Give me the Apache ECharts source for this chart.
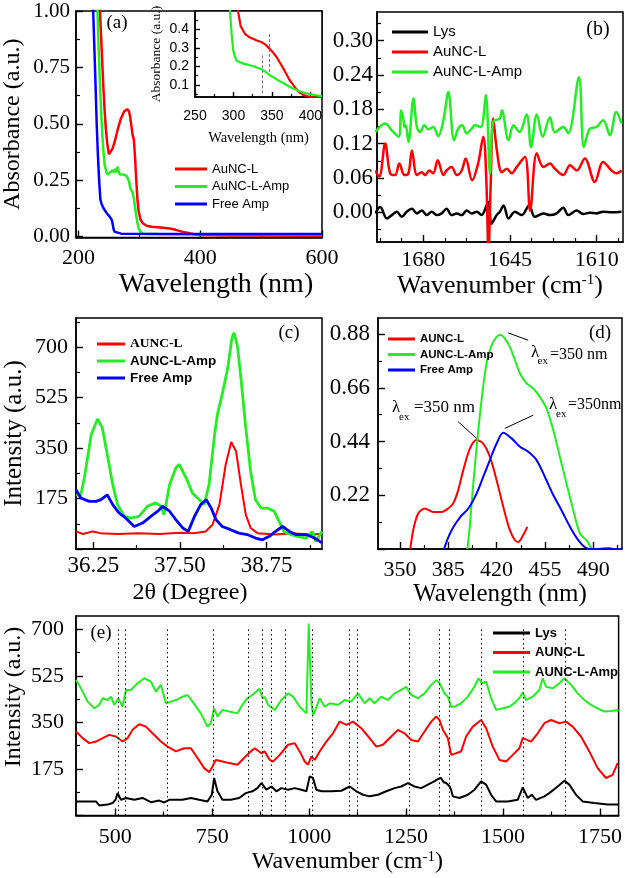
<!DOCTYPE html>
<html>
<head>
<meta charset="utf-8">
<script src="https://cdn.jsdelivr.net/npm/echarts@6/dist/echarts.min.js"></script>
<style>html,body{margin:0;padding:0;background:#fff}#chart{width:625px;height:878px}</style>
</head>
<body>
<div id="chart"></div>
<script>
// (a) UV-vis absorbance, wavelength (nm) vs absorbance
var uvAuNC = [[235,1.02],[237,0.9],[239,0.78],[241,0.66],[243,0.56],[245,0.48],[247,0.42],[250,0.365],[253,0.37],[256,0.39],[260,0.425],[265,0.48],[270,0.525],[275,0.555],[280,0.565],[283,0.555],[285,0.53],[287,0.49],[289,0.45],[291,0.43],[293,0.35],[295,0.25],[297,0.16],[299,0.11],[302,0.075],[306,0.058],[312,0.048],[320,0.044],[335,0.04],[350,0.036],[360,0.03],[370,0.022],[380,0.016],[390,0.01],[400,0.007],[450,0.005],[600,0.004]];
var uvAmp = [[231,1.02],[233,0.85],[235,0.7],[237,0.57],[239,0.46],[241,0.38],[243,0.32],[246,0.285],[248,0.275],[250,0.27],[252,0.285],[254,0.28],[256,0.295],[258,0.285],[260,0.3],[262,0.285],[264,0.31],[266,0.29],[268,0.275],[270,0.27],[273,0.275],[276,0.275],[279,0.27],[281,0.265],[283,0.245],[285,0.215],[287,0.205],[289,0.195],[291,0.17],[293,0.13],[295,0.09],[297,0.06],[299,0.035],[302,0.02],[306,0.013],[330,0.011],[600,0.009]];
var uvFree = [[224,1.02],[226,0.85],[228,0.68],[230,0.5],[232,0.36],[234,0.25],[236,0.165],[238,0.145],[240,0.132],[243,0.118],[245,0.111],[247,0.102],[249,0.097],[251,0.09],[253,0.085],[254.5,0.075],[256,0.06],[257.5,0.035],[259,0.022],[261,0.015],[270,0.013],[350,0.012],[600,0.011]];
// (a) inset
var insetAuNC = [[305,0.52],[306.3,0.488],[309.3,0.417],[315,0.374],[320,0.358],[326,0.347],[331,0.338],[337,0.329],[342,0.315],[347,0.294],[352,0.272],[356,0.25],[360,0.222],[365,0.188],[369,0.157],[373,0.126],[378,0.098],[382,0.077],[386,0.06],[391,0.047],[396,0.04],[402,0.035],[408,0.031],[415,0.029]];
var insetAmp = [[295.2,0.52],[295.6,0.488],[297.6,0.374],[299.7,0.285],[302,0.25],[304,0.232],[308,0.222],[313,0.215],[319,0.209],[326,0.201],[331,0.193],[337,0.183],[342,0.17],[347,0.153],[353,0.139],[358,0.126],[364,0.112],[369,0.1],[374,0.088],[380,0.077],[385,0.068],[391,0.06],[397,0.053],[404,0.047],[409,0.043],[415,0.041]];
var insetMarks = [[337,0.056,0.268],[347,0.17,0.382]];

// (b) FTIR, wavenumber vs absorbance
var irLys = [[1699.4,-0.002],[1697.4,0.009],[1694.7,-0.011],[1692.7,-0.005],[1690.7,0.001],[1688.7,-0.008],[1686.7,0.001],[1684.6,0.006],[1682.6,-0.002],[1680.6,0.003],[1678.6,-0.005],[1676.6,0.001],[1674.6,-0.005],[1672.6,-0.002],[1670.6,0.006],[1668.6,-0.005],[1666.5,-0.002],[1664.5,-0.005],[1662.5,0.003],[1660.5,-0.002],[1658.5,0.001],[1656.5,-0.005],[1653.8,0.018],[1652.5,-0.02],[1650.4,-0.005],[1649.1,0.001],[1647.6,0.012],[1645.6,-0.011],[1643,0.001],[1640.3,-0.005],[1637.3,0.012],[1635,-0.008],[1631.5,-0.002],[1628.9,-0.005],[1626.2,-0.002],[1623.5,0.008],[1621.5,-0.005],[1618.1,0.003],[1615.5,-0.003],[1612.8,-0.001],[1610.1,-0.002],[1607.4,0.001],[1604.1,0],[1600,0.001]];
var irAuNC = [[1699.4,0.073],[1697.8,0.062],[1695.4,0.12],[1693.4,0.068],[1691.4,0.065],[1689.7,0.085],[1687.6,0.065],[1686,0.068],[1684.6,0.108],[1682.6,0.065],[1680.6,0.07],[1679.3,0.065],[1677.6,0.073],[1676,0.068],[1674.2,0.091],[1671.9,0.065],[1670.6,0.073],[1668.6,0.079],[1666.5,0.065],[1664.5,0.073],[1662.9,0.094],[1660.3,0.056],[1657.9,0.085],[1655.8,0.132],[1654.6,0.06],[1653.7,-0.07],[1652.8,0.05],[1651.8,0.164],[1650.3,0.108],[1648.3,0.07],[1646.3,0.076],[1644.3,0.068],[1642.3,0.079],[1639,0.097],[1636.9,0.003],[1634.2,0.103],[1631.5,0.079],[1628.9,0.085],[1626.9,0.076],[1623.5,0.065],[1620.8,0.082],[1618.1,0.073],[1614.8,0.094],[1610.8,0.053],[1607.4,0.088],[1604.1,0.073],[1602.1,0.068],[1600,0.073]];
var irAmp = [[1699.4,0.14],[1695.4,0.155],[1692.7,0.143],[1690,0.132],[1688.9,0.178],[1688,0.161],[1687.6,0.149],[1687.1,0.152],[1686,0.123],[1684,0.199],[1682.6,0.149],[1681.3,0.14],[1679.6,0.152],[1678,0.145],[1676,0.149],[1674,0.133],[1671.9,0.161],[1669.9,0.21],[1667.6,0.126],[1665.9,0.146],[1664.3,0.152],[1662.5,0.138],[1660.5,0.146],[1659.2,0.152],[1656.8,0.149],[1654.8,0.205],[1653.1,0.068],[1651.8,0.158],[1649.1,0.164],[1648.3,0.178],[1645.6,0.126],[1643.6,0.152],[1641.2,0.14],[1638.3,0.171],[1636.5,0.114],[1634.2,0.171],[1631.8,0.132],[1628.9,0.166],[1626.9,0.14],[1623.5,0.149],[1621.5,0.138],[1617.2,0.236],[1615.2,0.114],[1612.8,0.146],[1610.1,0.149],[1607.4,0.161],[1604.7,0.135],[1602.1,0.175],[1600,0.155]];

// (c) XRD, 2theta vs intensity
var xrdAuNC = [[36,61],[36.1,52],[36.24,61],[36.35,55],[36.6,52],[36.9,55],[37.2,52],[37.5,56],[37.7,55],[37.87,61],[37.97,84],[38.07,154],[38.16,293],[38.24,371],[38.31,339],[38.38,223],[38.45,119],[38.52,73],[38.62,55],[38.88,50],[39.12,55],[39.36,50],[39.55,52]];
var xrdAmp = [[36,188],[36.07,188],[36.12,246],[36.22,397],[36.31,451],[36.38,420],[36.46,316],[36.53,223],[36.6,154],[36.7,113],[36.79,107],[36.91,113],[37.03,148],[37.15,160],[37.23,148],[37.27,119],[37.35,223],[37.44,281],[37.49,293],[37.59,246],[37.68,194],[37.78,171],[37.85,154],[37.92,223],[38,397],[38.04,466],[38.11,536],[38.19,628],[38.25,732],[38.28,750],[38.33,703],[38.38,593],[38.45,420],[38.52,269],[38.59,171],[38.67,142],[38.76,142],[38.86,131],[38.93,96],[39,61],[39.1,50],[39.2,44],[39.32,38],[39.41,61],[39.46,26],[39.55,61]];
var xrdFree = [[36,206],[36.07,177],[36.19,165],[36.29,165],[36.36,171],[36.45,188],[36.53,154],[36.62,125],[36.72,107],[36.84,78],[36.96,90],[37.08,113],[37.18,131],[37.25,148],[37.35,131],[37.44,102],[37.54,73],[37.62,61],[37.71,113],[37.8,154],[37.88,171],[37.95,142],[38.02,102],[38.11,78],[38.23,67],[38.35,55],[38.47,50],[38.59,38],[38.69,32],[38.79,44],[38.88,61],[38.98,78],[39.08,61],[39.17,50],[39.32,50],[39.44,38],[39.55,21]];

// (d) photoluminescence, wavelength vs intensity
var plAuNC = [[357.5,0],[359.6,0.077],[363.2,0.145],[368,0.166],[374.1,0.152],[380.1,0.152],[385,0.166],[388.6,0.187],[392.2,0.241],[395.8,0.322],[400.7,0.412],[405.5,0.446],[410.3,0.432],[415.1,0.378],[420,0.282],[424.8,0.173],[429.6,0.077],[433.3,0.036],[435.7,0.029],[439.3,0.057],[442.2,0.091]];
var plAmp = [[398.9,0],[400.7,0.102],[403.1,0.268],[406,0.446],[409.1,0.61],[412.7,0.76],[416.4,0.835],[420,0.869],[422.9,0.876],[426,0.862],[429.6,0.828],[433.3,0.773],[436.9,0.719],[441.7,0.678],[446.5,0.657],[451.3,0.623],[456.2,0.575],[461,0.487],[465.8,0.378],[470.6,0.268],[475.5,0.159],[480.3,0.064],[485.1,0.036],[488.8,0]];
var plFree = [[381.9,0],[385,0.048],[388.6,0.089],[393.5,0.13],[399.5,0.166],[405.5,0.227],[410.3,0.295],[415.1,0.364],[420,0.432],[424.8,0.476],[430.8,0.453],[436.9,0.419],[442.9,0.398],[448.9,0.364],[455,0.295],[461,0.221],[467,0.159],[473.1,0.091],[479.1,0.036],[484,0.007],[488.8,0],[502.1,0.003],[504.5,0],[510.8,0]];
var plArrows = [[428.4,0.885,442.9,0.855],[405.5,0.453,392.2,0.521],[426,0.494,446.5,0.548]];

// (e) Raman, wavenumber vs intensity
var ramanLys = [[398.8,53],[450.3,53],[458.9,38],[480.3,41],[493.2,47],[501,60],[506.1,84],[514.7,59],[527.6,66],[549,59],[570.5,66],[591.9,50],[613.4,56],[626.3,49],[639.2,59],[673.5,59],[695,66],[716.4,59],[737.9,53],[749,78],[755,141],[763.6,91],[776.5,59],[798,59],[819.4,66],[836.6,84],[853.8,91],[866.6,103],[877,122],[889.8,97],[902.7,109],[915.6,91],[928.5,103],[945.6,97],[962.8,103],[980,97],[992.9,91],[1001.4,147],[1010,141],[1018.6,97],[1031.5,91],[1057.2,91],[1083,93],[1104.4,109],[1121.6,91],[1138.8,78],[1156,72],[1177.4,78],[1198.9,91],[1220.3,103],[1237.5,109],[1254.6,122],[1271.8,109],[1289,103],[1306.2,116],[1322.4,128],[1333,138],[1340,141],[1347,125],[1353.3,122],[1361.9,110],[1366,97],[1370.5,72],[1387.7,66],[1409.1,78],[1426.3,97],[1443.5,128],[1456.4,116],[1469.2,78],[1482.1,53],[1512.1,53],[1537.9,59],[1550.8,106],[1563.6,66],[1574,78],[1585.1,59],[1606.6,72],[1619.4,84],[1640.9,109],[1658.1,131],[1670.9,116],[1688.1,78],[1705.3,53],[1735.3,47],[1769.7,41],[1798,41]];
var ramanAuNC = [[398.8,316],[416,291],[433.1,272],[450.3,278],[467.5,291],[484.6,303],[501.8,297],[519,278],[531.9,291],[544.7,322],[561.9,343],[579,334],[596.2,309],[617.7,278],[634.9,259],[656.3,241],[677.8,253],[695,253],[712.1,216],[729.3,178],[742.2,163],[750.7,184],[759.3,209],[776.5,203],[793.7,197],[815.1,191],[832.3,216],[849.5,241],[859.8,253],[877,234],[885.6,241],[898.4,209],[907,203],[924.2,228],[945.6,266],[962.8,272],[975.7,241],[988.6,203],[997.1,191],[1005.7,222],[1014.3,209],[1027.2,241],[1044.4,278],[1061.5,309],[1078.7,353],[1095.9,341],[1113,353],[1134.5,328],[1156,291],[1173.1,259],[1190.3,266],[1211.7,297],[1228.9,322],[1246,309],[1263.3,284],[1280.5,278],[1297.6,316],[1314.8,353],[1327.6,372],[1336.2,359],[1344.8,322],[1357.6,291],[1366.2,228],[1379.1,234],[1392,241],[1404.8,297],[1422,334],[1443.5,359],[1456.4,328],[1473.5,259],[1490.7,209],[1507.9,203],[1525,228],[1542.2,253],[1550.8,291],[1572.2,278],[1589.4,309],[1606.6,347],[1623.7,359],[1645.2,347],[1662.4,353],[1679.5,334],[1701,297],[1722.4,241],[1743.9,178],[1765.4,141],[1782.5,153],[1795.4,197]];
var ramanAmp = [[398.8,509],[411.7,478],[428.8,428],[446,403],[458.9,416],[467.5,441],[480.3,434],[489,447],[497.5,416],[507.8,441],[519,409],[527.6,472],[540.4,472],[557.6,497],[574.8,516],[592,503],[604.8,466],[617.7,491],[630.6,422],[643.4,428],[656.3,434],[673.5,447],[686.4,453],[699.2,428],[720.7,384],[737.9,334],[746.5,347],[755,403],[763.6,372],[776.5,397],[793.7,391],[815.1,384],[828,416],[840.9,441],[853.8,453],[866.6,470],[872,476],[880,440],[885.6,445],[894.1,416],[911.3,397],[928.5,434],[945.6,459],[958.5,447],[975.7,409],[992.9,384],[996,390],[998.9,722],[1003.2,722],[1006,420],[1010,378],[1014.3,390],[1027.2,441],[1040,409],[1053,422],[1074.4,416],[1091.6,434],[1108.7,428],[1125.9,459],[1143.1,422],[1156,441],[1168.8,422],[1186,447],[1203.2,434],[1220.3,459],[1237.5,472],[1250.4,484],[1263.3,453],[1280.5,441],[1297.6,459],[1314.8,491],[1327.6,509],[1336.2,497],[1349,459],[1357.6,447],[1366.2,409],[1374.8,409],[1392,422],[1409.1,447],[1426.3,484],[1436.6,516],[1445.2,497],[1456.4,503],[1469.2,441],[1482.1,397],[1499.3,403],[1516.4,409],[1533.6,428],[1544.8,447],[1550.8,463],[1559.4,434],[1576.5,447],[1593.7,472],[1602.3,516],[1610.9,484],[1628,478],[1645.2,497],[1658.1,516],[1675.3,491],[1692.4,459],[1709.6,434],[1726.8,416],[1743.9,403],[1761.1,391],[1778.3,393],[1798,397]];
var ramanBands = [508,526,633,752,843,879,901,939,1007,1103,1124,1257,1336,1362,1445,1552,1661];

var SERIF = 'Liberation Serif';
var SANS = 'Liberation Sans';
var RED = '#ff0000', GREEN = '#22ee22', BLUE = '#0000ff', BLACK = '#000000';

function steps(a, b, s) {
  var r = [];
  for (var v = a; v <= b + 1e-9; v += s) r.push(Math.round(v * 1e4) / 1e4);
  return r;
}

var xAxes = [], yAxes = [], series = [];

function axis(list, grid, o) {
  var isX = list === xAxes;
  list.push({
    type: 'value', gridIndex: grid, min: o.min, max: o.max, inverse: !!o.inverse,
    position: isX ? 'bottom' : 'left',
    name: o.name || '', nameLocation: 'middle', nameGap: o.nameGap || 30,
    nameTextStyle: {fontFamily: SERIF, fontSize: o.nameSize || 24, color: '#000', padding: o.namePad || 0,
      rich: {s: {fontFamily: SERIF, fontSize: 15, verticalAlign: 'top', color: '#000'}}},
    axisLine: {onZero: false, lineStyle: {color: '#000', width: 1.5}},
    axisTick: {show: true, inside: true, length: o.tick || 7, customValues: o.major, lineStyle: {color: '#000', width: 1.4}},
    axisLabel: {customValues: o.labels, margin: o.margin, formatter: o.fmt, fontFamily: o.font || SERIF,
      fontSize: o.size || 22, color: '#000'},
    splitLine: {show: false}
  });
  var idx = list.length - 1;
  if (o.minor) {
    list.push({
      type: 'value', gridIndex: grid, min: o.min, max: o.max, inverse: !!o.inverse,
      position: isX ? 'bottom' : 'left',
      axisLine: {show: false, onZero: false}, axisLabel: {show: false}, splitLine: {show: false},
      axisTick: {show: true, inside: true, length: o.minorLen || 4, customValues: o.minor, lineStyle: {color: '#000', width: 1.2}}
    });
  }
  return idx;
}

function line(name, data, color, xi, yi, width, smooth) {
  var s = {type: 'line', name: name, data: data, xAxisIndex: xi, yAxisIndex: yi,
    symbol: 'none', smooth: smooth || false, clip: true,
    lineStyle: {color: color, width: width || 2}, itemStyle: {color: color}};
  series.push(s);
  return s;
}

function f2(v) { return v.toFixed(2); }
function f1(v) { return v.toFixed(1); }
function f0(v) { return String(Math.round(v)); }

var grids = [
  {left: 76, top: 11, width: 246, height: 226.5},
  {left: 195, top: 11, width: 127, height: 86, backgroundColor: '#fff'},
  {left: 377, top: 12, width: 246, height: 230},
  {left: 76, top: 318, width: 246, height: 231},
  {left: 378, top: 318, width: 244, height: 231},
  {left: 76, top: 616, width: 543.5, height: 199.5}
];
grids.forEach(function (g) { g.show = true; g.borderColor = '#000'; g.borderWidth = 1.5; if (!g.backgroundColor) g.backgroundColor = 'transparent'; });

// (a)
var ax = axis(xAxes, 0, {min: 196, max: 600, major: [200, 400, 600], labels: [200, 400, 600], minor: [300, 500],
  fmt: f0, margin: 10, size: 22, name: 'Wavelength (nm)', nameSize: 28, nameGap: 33, namePad: [0, 0, 0, 34]});
var ay = axis(yAxes, 0, {min: -0.004, max: 1, major: steps(0, 1, 0.25), labels: steps(0, 1, 0.25), minor: steps(0.125, 0.875, 0.25),
  fmt: f2, margin: 6, size: 21, name: 'Absorbance (a.u.)', nameSize: 24, nameGap: 51});
line('AuNC-L', uvAuNC, RED, ax, ay, 2.5);
line('AuNC-L-Amp', uvAmp, GREEN, ax, ay, 2.5);
line('Free Amp', uvFree, BLUE, ax, ay, 2.5);

// inset
var ix = axis(xAxes, 1, {min: 250, max: 415, major: steps(250, 400, 50), labels: steps(250, 400, 50), minor: [275, 325, 375],
  fmt: f0, margin: 12, size: 14, font: SANS, tick: 5, minorLen: 3, name: 'Wavelength (nm)', nameSize: 14.5, nameGap: 34});
var iy = axis(yAxes, 1, {min: 0.036, max: 0.497, major: steps(0.1, 0.4, 0.1), labels: steps(0.1, 0.4, 0.1), minor: steps(0.05, 0.45, 0.1),
  fmt: f1, margin: 6, size: 14, font: SANS, tick: 5, minorLen: 3, name: 'Absorbance (a.u.)', nameSize: 13.5, nameGap: 32});
var insetRed = line('AuNC-L', insetAuNC, RED, ix, iy, 2.2);
line('AuNC-L-Amp', insetAmp, GREEN, ix, iy, 2.2);
insetRed.markLine = {silent: true, symbol: ['none', 'none'], label: {show: false},
  lineStyle: {color: '#777', width: 1, type: [3, 2]},
  data: insetMarks.map(function (m) { return [{coord: [m[0], m[1]]}, {coord: [m[0], m[2]]}]; })};

// (b)
var bx = axis(xAxes, 2, {min: 1599.4, max: 1698.7, inverse: true, major: [1680, 1645, 1610], labels: [1680, 1645, 1610],
  minor: [1697.5, 1688.75, 1671.25, 1662.5, 1653.75, 1636.25, 1627.5, 1618.75, 1601.25],
  fmt: f0, margin: 7, size: 22, name: 'Wavenumber (cm{s|-1})', nameSize: 26, nameGap: 31});
var by = axis(yAxes, 2, {min: -0.052, max: 0.35, major: steps(0, 0.3, 0.06), labels: steps(0, 0.3, 0.06), minor: steps(-0.03, 0.33, 0.06),
  fmt: f2, margin: 4, size: 23});
line('Lys', irLys, BLACK, bx, by, 2.5, 0.35);
line('AuNC-L', irAuNC, RED, bx, by, 2.5, 0.35);
line('AuNC-L-Amp', irAmp, GREEN, bx, by, 2.5, 0.35);

// (c)
var cx = axis(xAxes, 3, {min: 36, max: 39.55, major: [36.25, 37.5, 38.75], labels: [36.25, 37.5, 38.75], minor: [36.875, 38.125, 39.375],
  fmt: f2, margin: 5, size: 23, name: '2\u03b8 (Degree)', nameSize: 24, nameGap: 32, namePad: [0, 18, 0, 0]});
var cy = axis(yAxes, 3, {min: 0, max: 801, major: steps(0, 700, 175), labels: steps(175, 700, 175), minor: steps(87.5, 787.5, 175),
  fmt: f0, margin: 8, size: 22, name: 'Intensity (a.u.)', nameSize: 25, nameGap: 49});
line('AUNC-L', xrdAuNC, RED, cx, cy, 2);
line('AUNC-L-Amp', xrdAmp, GREEN, cx, cy, 2.8);
line('Free Amp', xrdFree, BLUE, cx, cy, 2.8);

// (d)
var dx = axis(xAxes, 4, {min: 334.1, max: 510.8, major: steps(350, 490, 35), labels: steps(350, 490, 35), minor: steps(367.5, 507.5, 35),
  fmt: f0, margin: 10, size: 22, name: 'Wavelength (nm)', nameSize: 25, nameGap: 33});
var dy = axis(yAxes, 4, {min: 0, max: 0.946, major: steps(0, 0.88, 0.22), labels: steps(0.22, 0.88, 0.22), minor: steps(0.11, 0.77, 0.22),
  fmt: f2, margin: 8, size: 23});
line('AUNC-L', plAuNC, RED, dx, dy, 2, 0.3);
var plGreen = line('AUNC-L-Amp', plAmp, GREEN, dx, dy, 2, 0.3);
line('Free Amp', plFree, BLUE, dx, dy, 2, 0.3);
plGreen.markLine = {silent: true, symbol: ['none', 'arrow'], symbolSize: [0, 8], label: {show: false},
  lineStyle: {color: '#000', width: 1, type: 'solid'},
  data: plArrows.map(function (a) { return [{coord: [a[0], a[1]]}, {coord: [a[2], a[3]]}]; })};

// (e)
var ex = axis(xAxes, 5, {min: 398.8, max: 1798, major: steps(500, 1750, 250), labels: steps(500, 1750, 250), minor: steps(625, 1625, 250),
  fmt: f0, margin: 11, size: 22, name: 'Wavenumber (cm{s|-1})', nameSize: 24, nameGap: 33});
var ey = axis(yAxes, 5, {min: 0, max: 750, major: steps(0, 700, 175), labels: steps(175, 700, 175), minor: steps(87.5, 612.5, 175),
  fmt: f0, margin: 12, size: 22});
var lys = line('Lys', ramanLys, BLACK, ex, ey, 2);
line('AUNC-L', ramanAuNC, RED, ex, ey, 2);
line('AUNC-L-Amp', ramanAmp, GREEN, ex, ey, 2);
lys.markLine = {silent: true, symbol: ['none', 'none'], label: {show: false},
  lineStyle: {color: '#000', width: 1, type: [1.5, 3]},
  data: ramanBands.map(function (b) { return [{coord: [b, 0]}, {coord: [b, 705]}]; })};

function legend(names, o) {
  return {
    data: names, left: o.left, top: o.top, orient: 'vertical', icon: 'rect',
    itemWidth: o.w, itemHeight: 3, itemGap: o.gap, selectedMode: false,
    textStyle: {fontFamily: o.font || SANS, fontSize: o.size, fontWeight: o.weight || 'normal', color: '#000', lineHeight: o.lh}
  };
}

function txt(s, x, y, size, extra) {
  var e = {type: 'text', x: x, y: y, z: 100,
    style: {text: s, fontFamily: SERIF, fontSize: size, fill: '#000', align: 'left', verticalAlign: 'middle'}};
  if (extra) for (var k in extra) e.style[k] = extra[k];
  return e;
}

var option = {
  animation: false,
  backgroundColor: '#fff',
  grid: grids,
  xAxis: xAxes,
  yAxis: yAxes,
  series: series,
  legend: [
    legend(['AuNC-L', 'AuNC-L-Amp', 'Free Amp'], {left: 170, top: 156, w: 32, gap: 1.5, size: 13, lh: 16}),
    legend(['Lys', 'AuNC-L', 'AuNC-L-Amp'], {left: 387, top: 18.5, w: 36, gap: 3, size: 15, lh: 17}),
    legend([{name: 'AUNC-L', textStyle: {fontFamily: SERIF, fontWeight: 'bold'}}, 'AUNC-L-Amp', 'Free Amp'],
      {left: 92, top: 331.5, w: 28, gap: 2, size: 13.5, lh: 15, weight: 'bold'}),
    legend(['AUNC-L', 'AUNC-L-Amp', 'Free Amp'], {left: 383, top: 327.5, w: 27, gap: 2.5, size: 11.5, lh: 13, weight: 'bold'}),
    legend(['Lys', 'AUNC-L', 'AUNC-L-Amp'], {left: 488, top: 620.5, w: 37, gap: 4.5, size: 13, lh: 15, weight: 'bold'})
  ],
  graphic: [
    txt('(a)', 117, 23, 19, {align: 'center'}),
    txt('(b)', 598, 30, 20, {align: 'center'}),
    txt('(c)', 289, 333, 19, {align: 'center'}),
    txt('(d)', 600, 333, 19, {align: 'center'}),
    txt('(e)', 101, 633, 19, {align: 'center'}),
    {type: 'text', x: 14, y: 697, rotation: Math.PI / 2, z: 100,
      style: {text: 'Intensity (a.u.)', fontFamily: SERIF, fontSize: 24, fill: '#000', align: 'center', verticalAlign: 'middle'}},
    txt('\u03bb', 531, 353, 17),
    txt('ex', 537.5, 361, 11),
    txt('=350 nm', 550, 355, 16),
    txt('\u03bb', 392, 408, 17),
    txt('ex', 399, 417, 11),
    txt('=350 nm', 414, 408, 17),
    txt('\u03bb', 549, 405, 17),
    txt('ex', 556, 414, 11),
    txt('=350nm', 568, 405, 16)
  ]
};

var chart = echarts.init(document.getElementById('chart'));
chart.setOption(option);
</script>
</body>
</html>
